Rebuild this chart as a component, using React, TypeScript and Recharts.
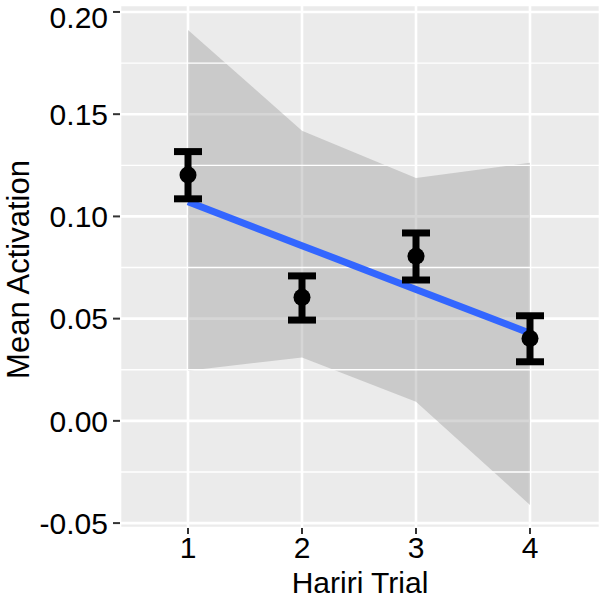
import React from "react";
import {
  Area,
  CartesianGrid,
  ComposedChart,
  ErrorBar,
  Label,
  Line,
  ReferenceLine,
  Scatter,
  XAxis,
  YAxis,
} from "recharts";

// values
const trials = [1, 2, 3, 4];
const meanActivation = [0.1203, 0.0604, 0.0805, 0.0403];
const errLower = [0.1086, 0.0493, 0.0689, 0.0289];
const errUpper = [0.1317, 0.0709, 0.0919, 0.0514];
const fitLine = [0.1072, 0.0857, 0.0643, 0.0429];
const bandLower = [0.0245, 0.031, 0.0093, -0.0411];
const bandUpper = [0.1912, 0.1419, 0.1188, 0.1262];

const yTicks = [-0.05, 0, 0.05, 0.1, 0.15, 0.2];
const yMinorTicks = [-0.025, 0.025, 0.075, 0.125, 0.175];
const xTicks = [1, 2, 3, 4];

const data = trials.map((trial, i) => ({
  trial,
  mean: meanActivation[i],
  err: [meanActivation[i] - errLower[i], errUpper[i] - meanActivation[i]],
  fit: fitLine[i],
  band: [bandLower[i], bandUpper[i]],
}));

const FONT = "'Liberation Sans', Arial, Helvetica, sans-serif";
const tickStyle = { fontSize: 30, fill: "#000000", fontFamily: FONT };

const Dot = (props: any) => {
  const { cx, cy } = props;
  return <circle cx={cx} cy={cy} r={8.5} fill="#000000" />;
};

const YTitle = (props: any) => {
  const { viewBox } = props;
  const cx = 29;
  const cy = viewBox.y + viewBox.height / 2 + 3;
  return (
    <text
      x={cx}
      y={cy}
      transform={`rotate(-90, ${cx}, ${cy})`}
      textAnchor="middle"
      fontSize={31}
      fontFamily={FONT}
      fill="#000000"
    >
      Mean Activation
    </text>
  );
};

export default function App() {
  return (
    <div style={{ position: "absolute", left: 0, top: 0, background: "#ffffff" }}>
      <ComposedChart
        width={600}
        height={599}
        data={data}
        margin={{ top: 5, right: 0, bottom: 0, left: 0 }}
      >
        <CartesianGrid stroke="#ffffff" strokeWidth={2.6} fill="#EBEBEB" />
        {yMinorTicks.map((v) => (
          <ReferenceLine key={v} y={v} stroke="#ffffff" strokeWidth={1.3} />
        ))}
        <XAxis
          dataKey="trial"
          type="number"
          domain={[0.4035, 4.614]}
          ticks={xTicks}
          allowDataOverflow
          height={71}
          axisLine={false}
          tickLine={{ stroke: "#333333", strokeWidth: 2 }}
          tickSize={6}
          tickMargin={3}
          tick={tickStyle}
        >
          <Label
            value="Hariri Trial"
            position="insideBottom"
            offset={6.5}
            style={{ fontSize: 30, fill: "#000000", fontFamily: FONT }}
          />
        </XAxis>
        <YAxis
          type="number"
          domain={[-0.0524, 0.2034]}
          ticks={yTicks}
          allowDataOverflow
          width={120}
          axisLine={false}
          tickLine={{ stroke: "#333333", strokeWidth: 2 }}
          tickSize={7}
          tickMargin={5}
          tick={tickStyle}
          tickFormatter={(v: number) => v.toFixed(2)}
        >
          <Label content={<YTitle />} />
        </YAxis>
        <Area
          dataKey="band"
          type="linear"
          stroke="none"
          fill="#999999"
          fillOpacity={0.4}
          isAnimationActive={false}
        />
        <Line
          dataKey="fit"
          type="linear"
          stroke="#3366FF"
          strokeWidth={7}
          dot={false}
          activeDot={false}
          isAnimationActive={false}
        />
        <Scatter dataKey="mean" shape={<Dot />} isAnimationActive={false}>
          <ErrorBar
            dataKey="err"
            direction="y"
            width={14}
            strokeWidth={7}
            stroke="#000000"
            isAnimationActive={false}
          />
        </Scatter>
      </ComposedChart>
    </div>
  );
}
